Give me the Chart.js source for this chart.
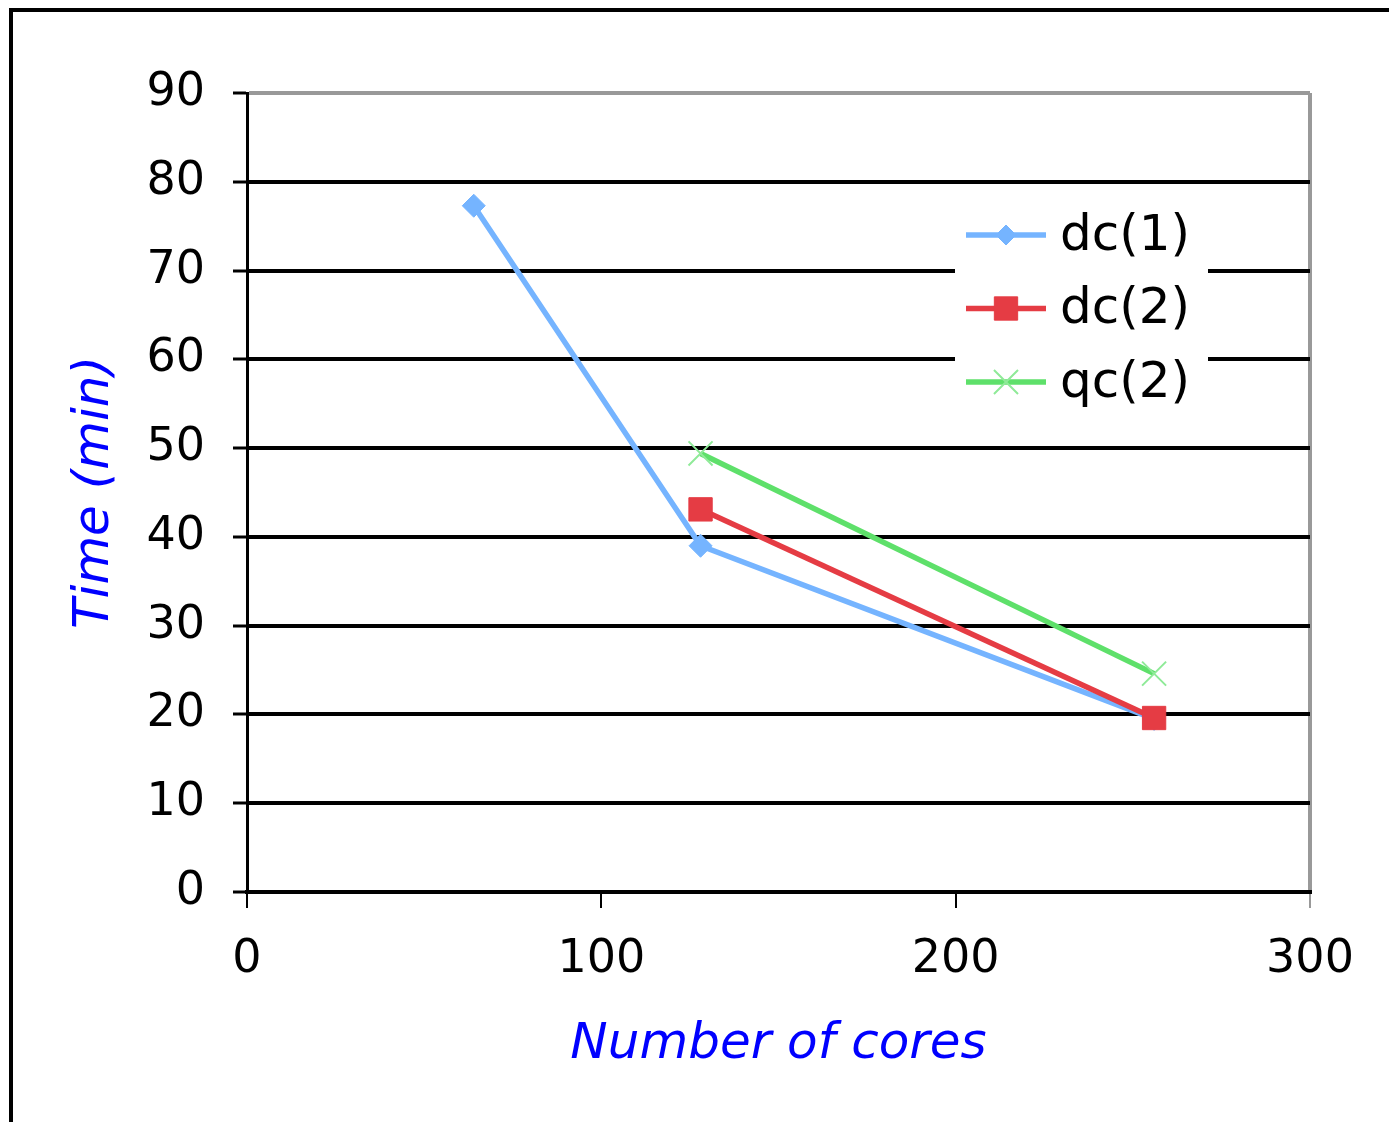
<!DOCTYPE html>
<html>
<head>
<meta charset="utf-8">
<script src="https://cdn.jsdelivr.net/npm/chart.js@4/dist/chart.umd.min.js"></script>
<style>
  html, body { margin: 0; padding: 0; background: #fff; overflow: hidden; }
  #frame { position: absolute; left: 9px; top: 8px; width: 2000px; height: 2000px;
           border-left: 4px solid #000; border-top: 4px solid #000; }
  #c { position: absolute; left: 0; top: 0; }
</style>
</head>
<body>
<div id="frame"></div>
<canvas id="c" width="1389" height="1122" style="width:1389px;height:1122px"></canvas>
<script>
// ---- data ----
const cores = [64, 128, 256];
const dc1 = [77.3, 39, 19.5];
const dc2 = [null, 43.1, 19.6];
const qc2 = [null, 49.4, 24.6];
const seriesNames = ['dc(1)', 'dc(2)', 'qc(2)'];
const xTicks = [0, 100, 200, 300];
const yTicks = [0, 10, 20, 30, 40, 50, 60, 70, 80, 90];

const toPts = vals => cores.map((c, i) => ({ x: c, y: vals[i] }));

const legendBox = {
  id: 'legendBox',
  afterDatasetsDraw(chart) {
    const ctx = chart.ctx;
    ctx.save();
    ctx.fillStyle = '#fff';
    ctx.fillRect(955, 200, 253, 222);
    chart.data.datasets.forEach((ds, i) => {
      const y = 235 + i * 73.5;
      ctx.strokeStyle = ds.borderColor;
      ctx.lineWidth = 5.5;
      ctx.beginPath(); ctx.moveTo(966, y); ctx.lineTo(1046, y); ctx.stroke();
      ctx.fillStyle = ds.pointBackgroundColor;
      ctx.strokeStyle = ds.pointBorderColor;
      ctx.lineWidth = ds.pointBorderWidth;
      Chart.helpers.drawPoint(ctx, {
        pointStyle: ds.pointStyle, radius: ds.legendRadius, rotation: 0,
        borderWidth: ds.pointBorderWidth
      }, 1006, y);
      ctx.fillStyle = '#000';
      ctx.font = '50px "DejaVu Sans"';
      ctx.textBaseline = 'middle';
      ctx.textAlign = 'left';
      ctx.fillText(ds.label, 1060, y + 2);
    });
    ctx.restore();
  }
};

const tickFont = { family: 'DejaVu Sans', size: 46 };
const titleFont = { family: 'DejaVu Sans', size: 50, style: 'italic' };

new Chart(document.getElementById('c'), {
  type: 'line',
  data: {
    datasets: [
      { label: seriesNames[0], data: toPts(dc1), order: 3, borderColor: '#75B4FF', backgroundColor: '#75B4FF',
        borderWidth: 5.5, pointStyle: 'rectRot', pointRadius: 11.5, legendRadius: 10,
        pointBackgroundColor: '#75B4FF', pointBorderColor: '#75B4FF', pointBorderWidth: 1 },
      { label: seriesNames[1], data: toPts(dc2), order: 2, borderColor: '#E53C44', backgroundColor: '#E53C44',
        borderWidth: 5.5, pointStyle: 'rect', pointRadius: 16.5, legendRadius: 16.5,
        pointBackgroundColor: '#E53C44', pointBorderColor: '#E53C44', pointBorderWidth: 1 },
      { label: seriesNames[2], data: toPts(qc2), order: 1, borderColor: '#5EE06A', backgroundColor: '#5EE06A',
        borderWidth: 5.5, pointStyle: 'crossRot', pointRadius: 17, legendRadius: 17,
        pointBackgroundColor: '#8FEA98', pointBorderColor: '#8FEA98', pointBorderWidth: 2 }
    ]
  },
  options: {
    responsive: false,
    animation: false,
    events: [],
    layout: { padding: { top: 93, right: 79, left: 0, bottom: 0 } },
    plugins: { legend: { display: false }, tooltip: { enabled: false } },
    elements: { line: { tension: 0 } },
    scales: {
      x: {
        type: 'linear', min: xTicks[0], max: xTicks[xTicks.length - 1],
        afterBuildTicks: s => { s.ticks = xTicks.map(v => ({ value: v })); },
        ticks: { padding: 24, color: '#000', font: tickFont },
        grid: {
          color: c => (c.tick && c.tick.value === 300) ? '#999' : 'rgba(0,0,0,0)',
          lineWidth: 4, tickLength: 16,
          tickColor: c => (c.tick && c.tick.value === 300) ? '#999' : '#000',
          tickWidth: 2
        },
        border: { color: '#000', width: 4 },
        title: { display: true, text: 'Number of cores', color: '#0000ff', font: titleFont,
                 padding: { top: 0, bottom: 47 } },
        afterFit: s => { s.height = 230; }
      },
      y: {
        type: 'linear', min: yTicks[0], max: yTicks[yTicks.length - 1],
        afterBuildTicks: s => { s.ticks = yTicks.map(v => ({ value: v })); },
        ticks: { padding: 28, color: '#000', font: tickFont },
        grid: {
          color: c => (c.tick && c.tick.value === 90) ? '#999' : '#000',
          lineWidth: 4, tickLength: 14, tickColor: '#000', tickWidth: 3
        },
        border: { color: '#000', width: 3 },
        title: { display: true, text: 'Time (min)', color: '#0000ff', font: titleFont,
                 padding: { top: 65, bottom: 0 } },
        afterFit: s => { s.width = 247; }
      }
    }
  },
  plugins: [legendBox]
});
</script>
</body>
</html>
